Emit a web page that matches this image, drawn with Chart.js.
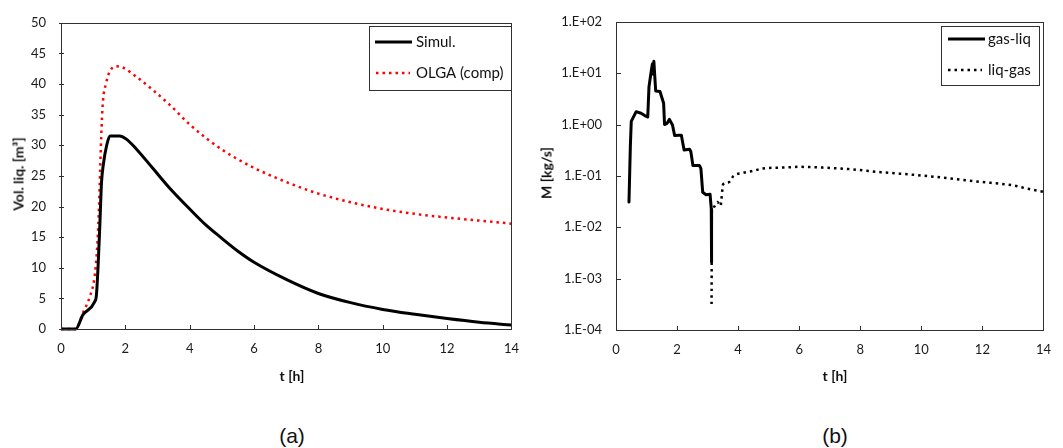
<!DOCTYPE html>
<html>
<head>
<meta charset="utf-8">
<script src="https://cdn.jsdelivr.net/npm/chart.js@4.4.1/dist/chart.umd.min.js"></script>
<style>
  html, body { margin: 0; padding: 0; background: #fff; }
  #wrap { position: relative; width: 1063px; height: 448px; overflow: hidden; background: #fff; }
  canvas { position: absolute; top: 0; }
  .lbl { position: absolute; white-space: nowrap; color: #111; transform: translate(-50%, -50%); }
  .ttl { font-family: Lato, "Open Sans", sans-serif; font-weight: bold; font-size: 14px; }
  .rot { transform: translate(-50%, -50%) rotate(-90deg); }
  .cap { font-family: "Liberation Sans", Arial, sans-serif; font-size: 21px; }
</style>
</head>
<body>
<div id="wrap">
  <canvas id="cA" width="531" height="400" style="left:0px"></canvas>
  <canvas id="cB" width="532" height="400" style="left:531px"></canvas>
  <div class="lbl ttl rot" style="left:18px; top:174px">Vol. liq. [m³]</div>
  <div class="lbl ttl rot" style="left:546px; top:173px">M [kg/s]</div>
  <div class="lbl ttl" style="left:292px; top:375px">t [h]</div>
  <div class="lbl ttl" style="left:835px; top:375px">t [h]</div>
  <div class="lbl cap" style="left:292px; top:436px">(a)</div>
  <div class="lbl cap" style="left:835px; top:436px">(b)</div>
</div>
<script>
// ---------- data ----------
const xTicks = [0, 2, 4, 6, 8, 10, 12, 14];
const yTicksLeft = [0, 5, 10, 15, 20, 25, 30, 35, 40, 45, 50];
const yTicksRight = [1e-4, 1e-3, 1e-2, 1e-1, 1e0, 1e1, 1e2];
const yTickLabelsRight = ['1.E-04', '1.E-03', '1.E-02', '1.E-01', '1.E+00', '1.E+01', '1.E+02'];

// (a) liquid volume
const tSimul = [0, 0.46, 0.68, 1.04, 1.10, 1.15, 1.20, 1.26, 1.32, 1.42, 1.52, 1.82, 2.03, 2.34, 2.86, 3.38, 4.0, 4.5, 5.0, 5.5, 6.0, 7.0, 8.0, 9.0, 10.0, 11.0, 12.0, 13.0, 14.0];
const vSimul = [0, 0, 2.3, 4.4, 5.5, 10, 16, 24, 27, 30, 31.5, 31.5, 31.0, 29.4, 26.2, 23.0, 19.6, 17.0, 14.8, 12.7, 10.9, 8.1, 5.8, 4.3, 3.2, 2.4, 1.7, 1.1, 0.65];
const tOlga = [0, 0.45, 0.68, 0.89, 1.04, 1.11, 1.16, 1.20, 1.25, 1.30, 1.40, 1.51, 1.72, 1.92, 2.34, 2.86, 3.38, 4.0, 4.5, 5.0, 5.5, 6.0, 6.5, 7.0, 7.5, 8.0, 9.0, 10.0, 11.0, 12.0, 13.0, 14.0];
const vOlga = [0, 0, 2.6, 5.2, 8.4, 12.2, 17, 23, 31.5, 36.9, 40.1, 42.0, 42.9, 42.7, 41.2, 39.0, 36.6, 33.4, 31.2, 29.3, 27.7, 26.3, 25.1, 24.0, 23.0, 22.1, 20.7, 19.6, 18.8, 18.2, 17.7, 17.2];

// (b) mass transfer rate
const tGasLiq = [0.425, 0.47, 0.50, 0.66, 0.82, 0.98, 1.04, 1.08, 1.14, 1.19, 1.21, 1.24, 1.30, 1.44, 1.56, 1.59, 1.67, 1.75, 1.85, 1.92, 2.07, 2.14, 2.23, 2.41, 2.45, 2.52, 2.73, 2.78, 2.84, 2.95, 3.08, 3.12, 3.13];
const mGasLiq = [0.031, 0.38, 1.15, 1.78, 1.66, 1.45, 1.40, 5.4, 9.6, 15, 9.6, 17, 4.5, 4.4, 2.6, 1.0, 1.05, 1.26, 0.98, 0.61, 0.62, 0.62, 0.32, 0.33, 0.30, 0.16, 0.16, 0.14, 0.048, 0.043, 0.044, 0.023, 0.0021];
const tLiqGas = [3.13, 3.14, 3.21, 3.32, 3.42, 3.51, 3.69, 3.85, 4.17, 4.49, 4.81, 5.45, 6.0, 6.76, 7.61, 8.68, 9.75, 10.82, 11.89, 12.96, 13.5, 14.0];
const mLiqGas = [0.00032, 0.023, 0.025, 0.031, 0.026, 0.069, 0.075, 0.10, 0.115, 0.125, 0.14, 0.145, 0.15, 0.145, 0.136, 0.118, 0.105, 0.091, 0.077, 0.066, 0.056, 0.049];

const pts = (xs, ys) => xs.map((x, i) => ({ x: x, y: ys[i] }));

// ---------- helpers ----------
const TICK_FONT = { family: 'Lato, "Open Sans", sans-serif', size: 13 };
const TICK_COLOR = '#1a1a1a';

function framePlugin(yCross) {
  return {
    id: 'frame',
    afterDatasetsDraw(chart) {
      const ctx = chart.ctx, a = chart.chartArea;
      ctx.save();
      ctx.strokeStyle = '#303030';
      ctx.lineWidth = 1;
      ctx.strokeRect(Math.round(a.left) + 0.5, Math.round(a.top) + 0.5, Math.round(a.right - a.left), Math.round(a.bottom - a.top));
      const xs = chart.scales.x, ys = chart.scales.y;
      ctx.beginPath();
      xs.ticks.forEach((t, i) => {
        const px = Math.round(xs.getPixelForTick(i)) + 0.5;
        ctx.moveTo(px, a.bottom); ctx.lineTo(px, a.bottom - 4);
      });
      ys.ticks.forEach((t, i) => {
        const py = Math.round(ys.getPixelForTick(i)) + 0.5;
        ctx.moveTo(a.left - yCross[0], py); ctx.lineTo(a.left + yCross[1], py);
      });
      ctx.stroke();
      ctx.restore();
    }
  };
}

function legendPlugin(box, items) {
  return {
    id: 'boxlegend',
    afterDraw(chart) {
      const ctx = chart.ctx;
      ctx.save();
      ctx.fillStyle = '#fff';
      ctx.fillRect(box.x1, box.y1, box.x2 - box.x1, box.y2 - box.y1);
      ctx.strokeStyle = '#303030';
      ctx.lineWidth = 1;
      ctx.strokeRect(box.x1 + 0.5, box.y1 + 0.5, box.x2 - box.x1, box.y2 - box.y1);
      items.forEach(it => {
        const ds = chart.data.datasets[it.ds];
        ctx.beginPath();
        ctx.strokeStyle = ds.borderColor;
        ctx.lineWidth = ds.borderWidth;
        ctx.setLineDash(ds.borderDash || []);
        ctx.moveTo(it.x1, it.y); ctx.lineTo(it.x2, it.y);
        ctx.stroke();
        ctx.setLineDash([]);
        ctx.fillStyle = '#111';
        ctx.font = '15px Lato, "Open Sans", sans-serif';
        ctx.textBaseline = 'middle';
        ctx.textAlign = 'left';
        ctx.fillText(ds.label, it.tx, it.y);
      });
      ctx.restore();
    }
  };
}

function xAxis(height) {
  return {
    type: 'linear', min: 0, max: 14,
    afterBuildTicks: s => { s.ticks = xTicks.map(v => ({ value: v })); },
    afterFit: s => { s.height = height; },
    grid: { display: false, drawTicks: false },
    border: { display: false },
    ticks: { font: TICK_FONT, color: TICK_COLOR, padding: 12, maxRotation: 0, autoSkip: false }
  };
}

// ---------- chart (a) ----------
new Chart(document.getElementById('cA'), {
  type: 'line',
  data: {
    datasets: [
      { label: 'Simul.', data: pts(tSimul, vSimul), borderColor: '#000000', borderWidth: 3,
        borderJoinStyle: 'round', pointRadius: 0, cubicInterpolationMode: 'monotone', clip: false },
      { label: 'OLGA (comp)', data: pts(tOlga, vOlga), borderColor: '#ff0000', borderWidth: 2.5,
        borderDash: [2.5, 4], pointRadius: 0, cubicInterpolationMode: 'monotone', clip: false }
    ]
  },
  options: {
    responsive: false, animation: false, devicePixelRatio: 1,
    layout: { padding: { top: 18, right: 8, left: 0, bottom: 0 } },
    plugins: { legend: { display: false }, tooltip: { enabled: false } },
    scales: {
      x: xAxis(71),
      y: {
        type: 'linear', min: 0, max: 50,
        afterBuildTicks: s => { s.ticks = yTicksLeft.map(v => ({ value: v })); },
        afterFit: s => { s.width = 61; },
        grid: { display: false, drawTicks: false },
        border: { display: false },
        ticks: { font: TICK_FONT, color: TICK_COLOR, padding: 15 }
      }
    }
  },
  plugins: [framePlugin([2, 3]), legendPlugin(
    { x1: 369, y1: 26, x2: 511, y2: 90 },
    [ { ds: 0, x1: 375, x2: 412, y: 42, tx: 416 },
      { ds: 1, x1: 376, x2: 410, y: 73, tx: 416 } ])]
});

// ---------- chart (b) ----------
new Chart(document.getElementById('cB'), {
  type: 'line',
  data: {
    datasets: [
      { label: 'gas-liq', data: pts(tGasLiq, mGasLiq), borderColor: '#000000', borderWidth: 3,
        borderJoinStyle: 'round', borderCapStyle: 'round', pointRadius: 0, tension: 0, clip: false },
      { label: 'liq-gas', data: pts(tLiqGas, mLiqGas), borderColor: '#000000', borderWidth: 2.5,
        borderDash: [2.5, 4], pointRadius: 0, cubicInterpolationMode: 'monotone', clip: false }
    ]
  },
  options: {
    responsive: false, animation: false, devicePixelRatio: 1,
    layout: { padding: { top: 17, right: 8, left: 0, bottom: 0 } },
    plugins: { legend: { display: false }, tooltip: { enabled: false } },
    scales: {
      x: xAxis(70),
      y: {
        type: 'logarithmic', min: 1e-4, max: 100,
        afterBuildTicks: s => { s.ticks = yTicksRight.map(v => ({ value: v })); },
        afterFit: s => { s.width = 85; },
        grid: { display: false, drawTicks: false },
        border: { display: false },
        ticks: { font: TICK_FONT, color: TICK_COLOR, padding: 14,
                 callback: (v, i) => yTickLabelsRight[i] }
      }
    }
  },
  plugins: [framePlugin([0, 5]), legendPlugin(
    { x1: 410, y1: 26, x2: 508, y2: 85 },
    [ { ds: 0, x1: 417, x2: 454, y: 39, tx: 457 },
      { ds: 1, x1: 417, x2: 451, y: 70, tx: 457 } ])]
});
</script>
</body>
</html>
